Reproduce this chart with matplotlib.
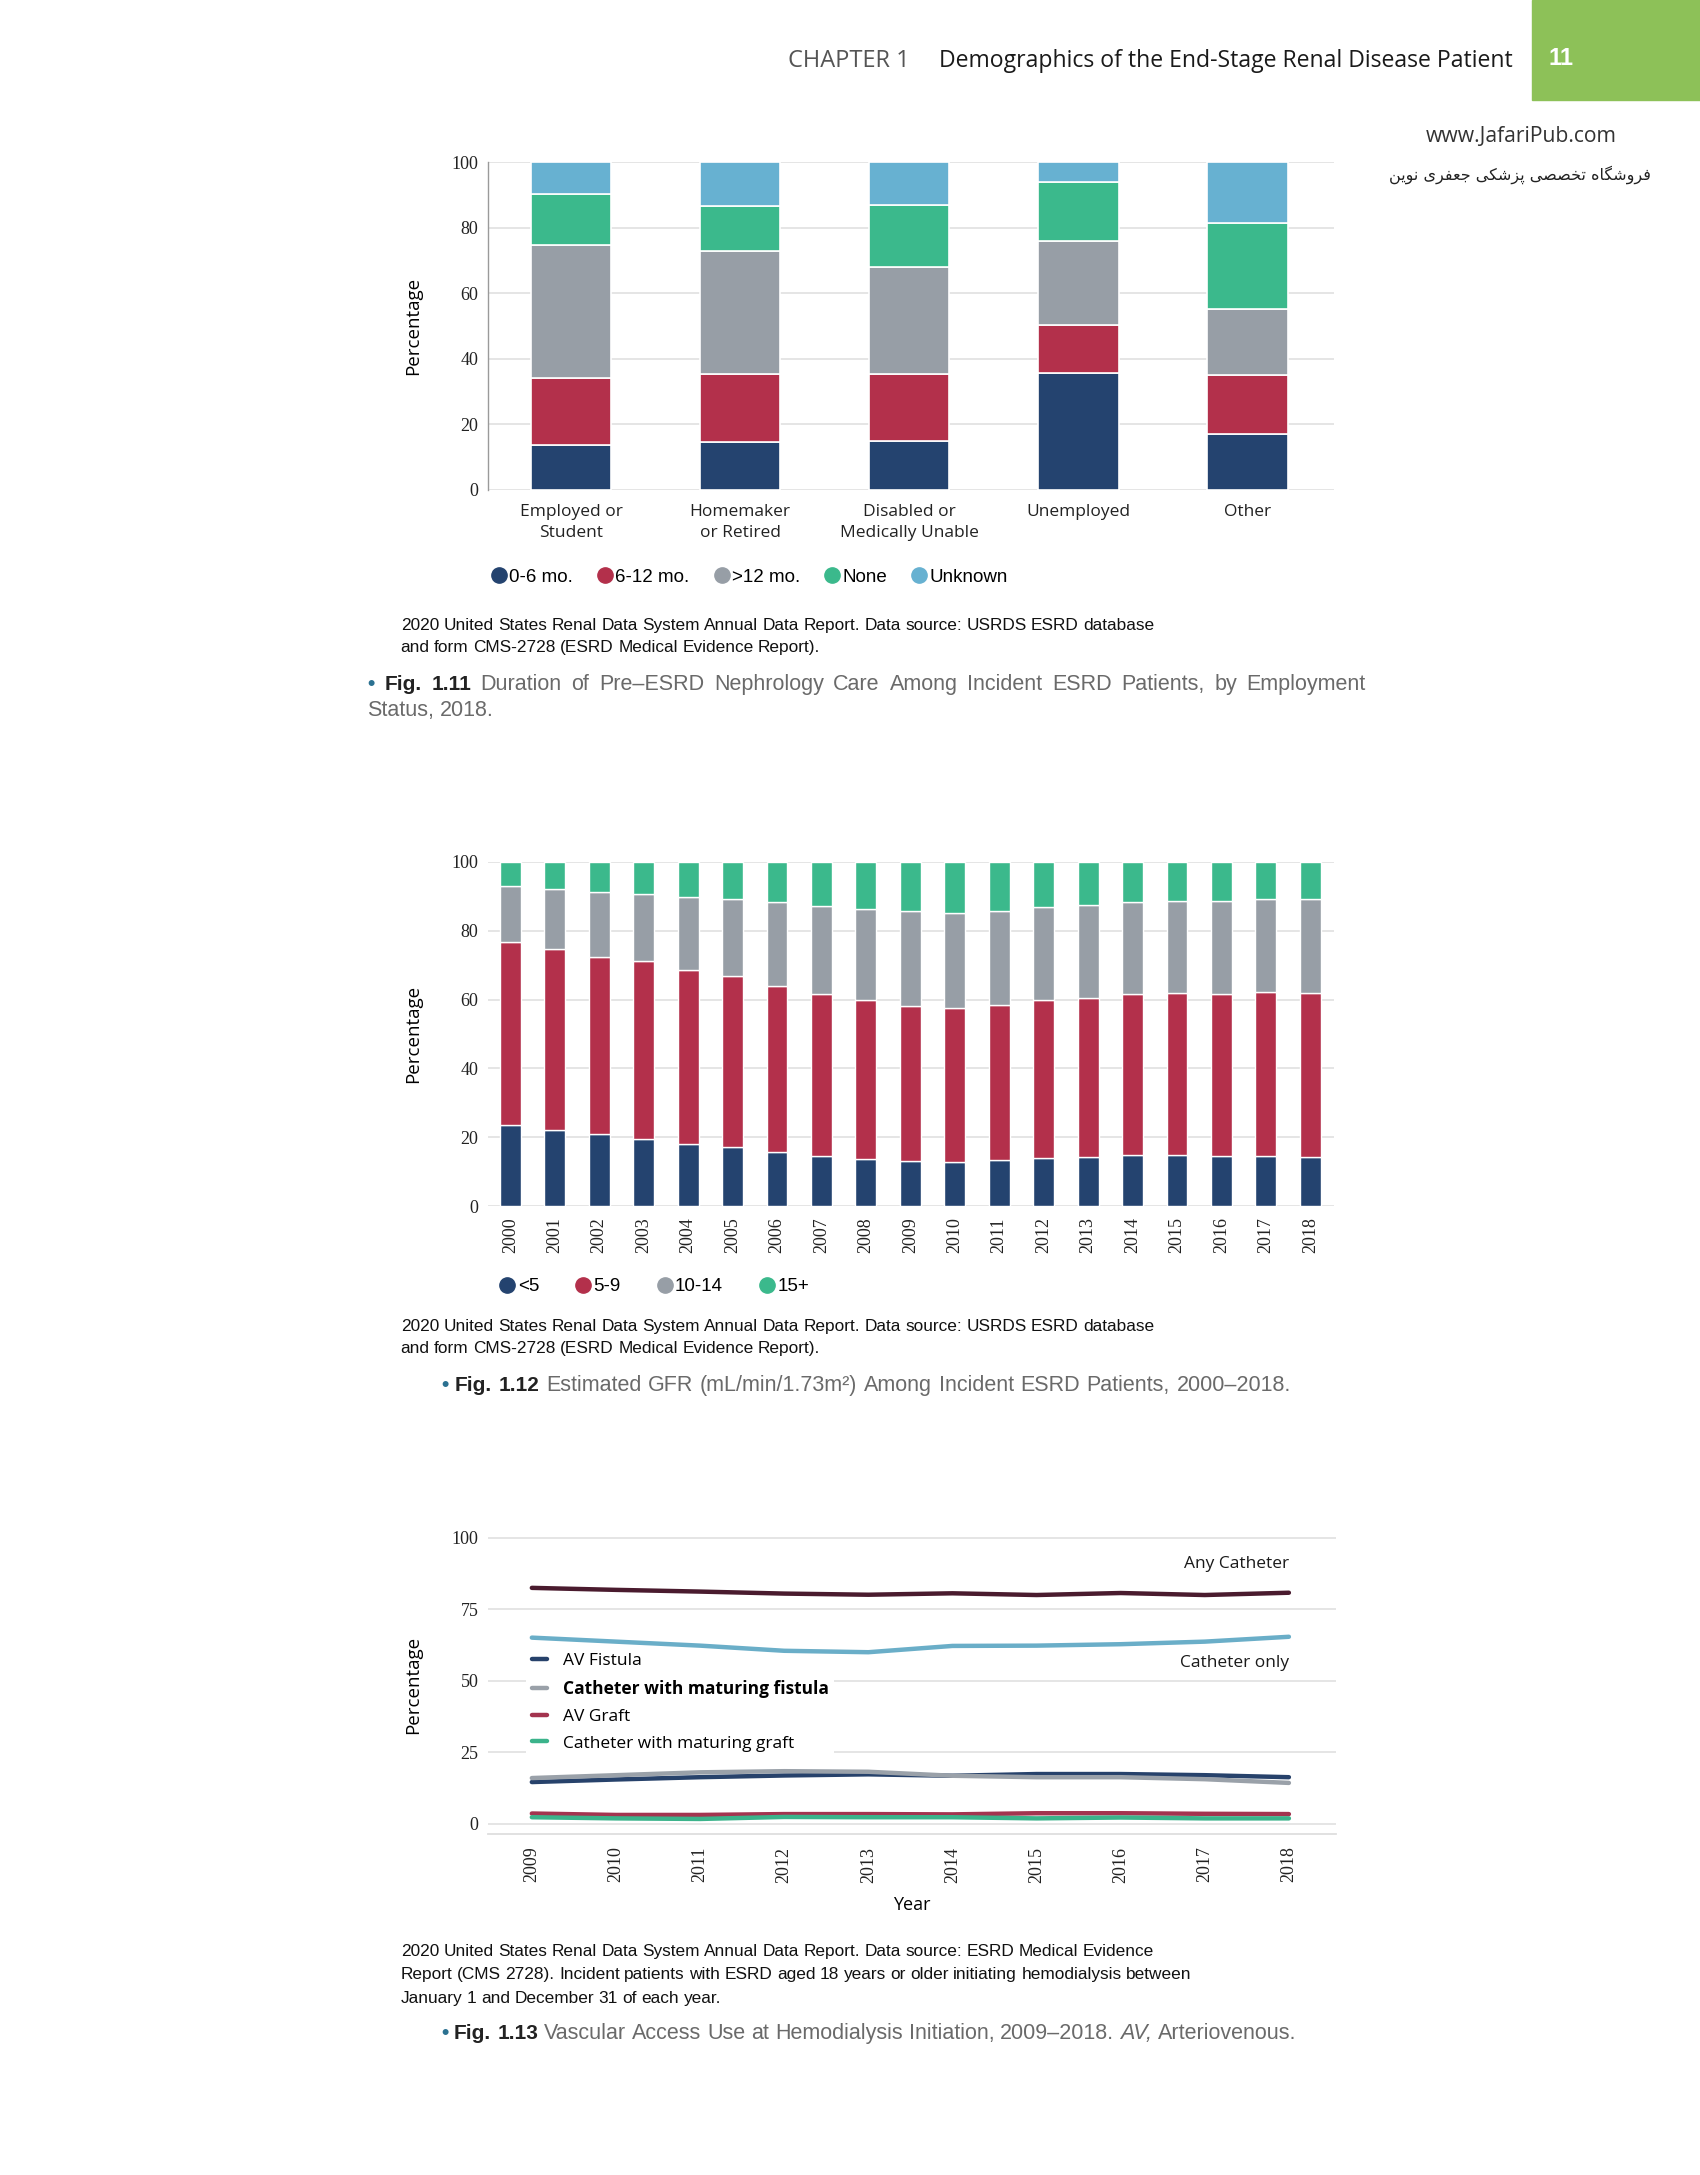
import matplotlib
matplotlib.use("Agg")
import matplotlib.pyplot as plt
from matplotlib.lines import Line2D
from matplotlib.patches import Rectangle

# ---------------- Fig 1.11 : pre-ESRD nephrology care by employment ----------------
employment = ["Employed or\nStudent", "Homemaker\nor Retired", "Disabled or\nMedically Unable",
              "Unemployed", "Other"]
care_0_6 = [13.7, 14.5, 14.8, 35.7, 17.2]
care_6_12 = [20.5, 20.9, 20.6, 14.6, 17.9]
care_over_12 = [40.7, 37.4, 32.6, 25.6, 20.1]
care_none = [15.3, 13.9, 19.1, 18.1, 26.2]
care_unknown = [9.8, 13.3, 12.9, 6.0, 18.6]
care_labels = ["0-6 mo.", "6-12 mo.", ">12 mo.", "None", "Unknown"]

# ---------------- Fig 1.12 : eGFR at initiation ----------------
gfr_years = ["2000", "2001", "2002", "2003", "2004", "2005", "2006", "2007", "2008", "2009",
             "2010", "2011", "2012", "2013", "2014", "2015", "2016", "2017", "2018"]
gfr_lt5 = [23.7, 22.0, 20.9, 19.6, 18.0, 17.1, 15.6, 14.5, 13.6, 13.0,
           12.8, 13.3, 13.9, 14.2, 14.8, 14.8, 14.5, 14.5, 14.2]
gfr_5_9 = [52.9, 52.6, 51.6, 51.6, 50.5, 49.7, 48.4, 47.1, 46.3, 45.1,
           44.7, 45.1, 46.0, 46.3, 46.8, 47.1, 47.1, 47.7, 47.7]
gfr_10_14 = [16.3, 17.4, 18.9, 19.6, 21.2, 22.3, 24.5, 25.5, 26.3, 27.6,
             27.8, 27.3, 26.9, 26.9, 26.7, 26.7, 27.2, 26.9, 27.2]
gfr_15_plus = [7.1, 8.0, 8.6, 9.2, 10.3, 10.9, 11.5, 12.9, 13.8, 14.3,
               14.7, 14.3, 13.2, 12.6, 11.7, 11.4, 11.2, 10.9, 10.9]
gfr_labels = ["<5", "5-9", "10-14", "15+"]

# ---------------- Fig 1.13 : vascular access ----------------
va_years = [2009, 2010, 2011, 2012, 2013, 2014, 2015, 2016, 2017, 2018]
any_catheter = [82.4, 81.7, 81.1, 80.4, 80.0, 80.5, 79.9, 80.6, 79.9, 80.7]
catheter_only = [65.0, 63.6, 62.2, 60.4, 59.9, 62.1, 62.2, 62.7, 63.6, 65.3]
av_fistula = [14.5, 15.4, 16.2, 16.8, 17.2, 16.7, 17.3, 17.3, 16.9, 16.2]
cath_mat_fistula = [15.9, 16.9, 17.9, 18.3, 18.1, 16.7, 16.2, 16.2, 15.5, 14.2]
av_graft = [3.5, 3.0, 3.0, 3.3, 3.3, 3.2, 3.6, 3.6, 3.4, 3.3]
cath_mat_graft = [2.2, 1.8, 1.6, 2.3, 2.2, 2.2, 1.8, 2.1, 1.8, 1.8]

NAVY, RED, GRAY, GREEN, BLUE = "#24436f", "#b3304b", "#979ea6", "#3bb98c", "#67b1d1"
GRID = "#dedede"
SERIF = ["Liberation Serif", "DejaVu Serif"]
SANS = ["Open Sans", "DejaVu Sans"]
ARIAL = ["Liberation Sans", "DejaVu Sans"]

fig = plt.figure(figsize=(17, 21.75), dpi=100)
W, H = 1226.0, 1567.0   # layout measured on a 1226-wide view of the page


def fx(x):
    return x / W


def fy(y):
    return 1 - y / H


def put_line(x, y, runs, width=None, size=14):
    # draws words one by one so mixed styles and justification are possible
    rend = fig.canvas.get_renderer()
    words = []
    for text, kw in runs:
        for w in text.split(" "):
            if w:
                words.append(fig.text(0, fy(y), w, va="baseline", **kw))
    widths = [t.get_window_extent(rend).width for t in words]
    if width is not None and len(words) > 1:
        gap = (width / W * 1700 - sum(widths)) / (len(words) - 1)
    else:
        gap = 0.26 * size * 100 / 72
    cur = x / W * 1700
    for t, w in zip(words, widths):
        t.set_x(cur / 1700)
        cur += w + gap


def style_axis(ax, left_spine=False):
    for s in ax.spines.values():
        s.set_visible(False)
    if left_spine:
        ax.spines["left"].set_visible(True)
        ax.spines["left"].set_color("#9a9a9a")
        ax.spines["left"].set_linewidth(1.0)
    ax.grid(axis="y", color=GRID, lw=1.1)
    ax.set_axisbelow(True)
    ax.tick_params(length=0, colors="#222222")
    for lab in ax.get_yticklabels():
        lab.set_fontfamily(SERIF)
        lab.set_fontsize(13)


# ---------------- header ----------------
fig.patches.append(Rectangle((fx(1105), fy(72)), 1 - fx(1105), fy(0) - fy(72),
                             transform=fig.transFigure, color="#8dc158", zorder=0))
fig.text(fx(1126), fy(42), "11", color="white", fontsize=17, fontweight="bold",
         family=ARIAL, ha="center", va="center")
fig.text(fx(568), fy(48), "CHAPTER 1", color="#555555", fontsize=17, family=SANS, va="baseline")
fig.text(fx(677), fy(48), "Demographics of the End-Stage Renal Disease Patient", color="#1a1a1a",
         fontsize=16.6, family=SANS, va="baseline")
fig.text(fx(1097), fy(98), "www.JafariPub.com", color="#333333", fontsize=15.2, family=SANS,
         ha="center", va="center")
# persian shop name, written with presentation forms (matplotlib has no arabic shaping)
fa_words = [[0xFED3, 0xFEAE, 0xFEED, 0xFEB7, 0xFB95, 0xFE8E, 0xFEE9],
            [0xFE97, 0xFEA8, 0xFEBC, 0xFEBC, 0xFEF0],
            [0xFB58, 0xFEB0, 0xFEB7, 0xFB91, 0xFEF0],
            [0xFE9F, 0xFECC, 0xFED4, 0xFEAE, 0xFEEF],
            [0xFEE7, 0xFEEE, 0xFEF3, 0xFEE6]]
fa_text = " ".join("".join(chr(c) for c in reversed(w)) for w in reversed(fa_words))
fig.text(fx(1096), fy(126), fa_text, color="#222222", fontsize=11.5, family=["DejaVu Sans"],
         ha="center", va="center")

# ---------------- Fig 1.11 ----------------
ax1 = fig.add_axes([fx(352), fy(353), fx(962) - fx(352), fy(117) - fy(353)])
x1 = list(range(len(employment)))
bottom = [0.0] * len(employment)
for vals, col, lab in zip([care_0_6, care_6_12, care_over_12, care_none, care_unknown],
                          [NAVY, RED, GRAY, GREEN, BLUE], care_labels):
    ax1.bar(x1, vals, 0.475, bottom=bottom, color=col, edgecolor="white", lw=1.2, label=lab)
    bottom = [b + v for b, v in zip(bottom, vals)]
ax1.set_xlim(-0.49, 4.51)
ax1.set_ylim(0, 100)
ax1.set_yticks([0, 20, 40, 60, 80, 100])
ax1.set_xticks(x1)
ax1.set_xticklabels(employment, family=SANS, fontsize=12.5, linespacing=1.4)
style_axis(ax1, left_spine=True)
ax1.tick_params(axis="x", pad=10)
ax1.tick_params(axis="y", pad=7)
ax1.set_ylabel("Percentage", family=SANS, fontsize=13.5)
ax1.yaxis.set_label_coords(-0.078, 0.5)

h1 = [Line2D([], [], ls="", marker="o", ms=11, color=c) for c in [NAVY, RED, GRAY, GREEN, BLUE]]
fig.legend(h1, care_labels, loc="center left", bbox_to_anchor=(fx(341), fy(416)), ncol=5,
           frameon=False, handletextpad=0.05, columnspacing=1.2, handlelength=1.0,
           prop={"family": ARIAL, "size": 13.5})

CAPN = {"family": ARIAL, "fontsize": 12.4, "color": "#111111"}
put_line(289, 454, [("2020 United States Renal Data System Annual Data Report. Data source: USRDS ESRD database", CAPN)],
         size=12.4)
put_line(289, 470, [("and form CMS-2728 (ESRD Medical Evidence Report).", CAPN)], size=12.4)

BUL = {"family": ARIAL, "fontsize": 15, "color": "#2b7191", "fontweight": "bold"}
FIGB = {"family": ARIAL, "fontsize": 15, "color": "#222222", "fontweight": "bold"}
CAP = {"family": ARIAL, "fontsize": 15.5, "color": "#6a6a6a"}
put_line(265, 497, [("\u2022", BUL), ("Fig. 1.11", FIGB),
                    ("Duration of Pre\u2013ESRD Nephrology Care Among Incident ESRD Patients, by Employment", CAP)],
         width=985 - 265, size=15)
put_line(265, 516, [("Status, 2018.", CAP)], size=15)

# ---------------- Fig 1.12 ----------------
ax2 = fig.add_axes([fx(352), fy(869), fx(962) - fx(352), fy(621) - fy(869)])
x2 = list(range(len(gfr_years)))
bottom = [0.0] * len(gfr_years)
for vals, col, lab in zip([gfr_lt5, gfr_5_9, gfr_10_14, gfr_15_plus], [NAVY, RED, GRAY, GREEN], gfr_labels):
    ax2.bar(x2, vals, 0.47, bottom=bottom, color=col, edgecolor="white", lw=1.0, label=lab)
    bottom = [b + v for b, v in zip(bottom, vals)]
ax2.set_xlim(-0.5, 18.53)
ax2.set_ylim(0, 100)
ax2.set_yticks([0, 20, 40, 60, 80, 100])
ax2.set_xticks(x2)
ax2.set_xticklabels(gfr_years, rotation=90, family=SERIF, fontsize=13)
style_axis(ax2)
ax2.tick_params(axis="x", pad=8)
ax2.tick_params(axis="y", pad=7)
ax2.set_ylabel("Percentage", family=SANS, fontsize=13.5)
ax2.yaxis.set_label_coords(-0.078, 0.5)

h2 = [Line2D([], [], ls="", marker="o", ms=11, color=c) for c in [NAVY, RED, GRAY, GREEN]]
fig.legend(h2, gfr_labels, loc="center left", bbox_to_anchor=(fx(347), fy(927)), ncol=4,
           frameon=False, handletextpad=0.05, columnspacing=1.85, handlelength=1.0,
           prop={"family": ARIAL, "size": 13.5})

put_line(289, 959, [("2020 United States Renal Data System Annual Data Report. Data source: USRDS ESRD database", CAPN)],
         size=12.4)
put_line(289, 975, [("and form CMS-2728 (ESRD Medical Evidence Report).", CAPN)], size=12.4)
put_line(318, 1002, [("\u2022", BUL), ("Fig. 1.12 ", FIGB),
                     ("Estimated GFR (mL/min/1.73m\u00b2) Among Incident ESRD Patients, 2000\u20132018.", CAP)],
         width=931 - 318, size=15)

# ---------------- Fig 1.13 ----------------
ax3 = fig.add_axes([fx(352), fy(1321.4), fx(963.5) - fx(352), fy(1106.7) - fy(1321.4)])
# the two catheter totals run above the legend box
ax3.plot(va_years, any_catheter, color="#4a1b2e", lw=3.2, solid_capstyle="round", zorder=6)
ax3.plot(va_years, catheter_only, color="#6aaec8", lw=3.2, solid_capstyle="round", zorder=6)
ax3.plot(va_years, av_fistula, color="#27426b", lw=3.2, label="AV Fistula", solid_capstyle="round")
ax3.plot(va_years, cath_mat_fistula, color="#9aa1a9", lw=3.2, label="Catheter with maturing fistula",
         solid_capstyle="round")
ax3.plot(va_years, av_graft, color="#a3344f", lw=3.2, label="AV Graft", solid_capstyle="round")
ax3.plot(va_years, cath_mat_graft, color="#3bb38b", lw=3.2, label="Catheter with maturing graft",
         solid_capstyle="round")
ax3.set_xlim(2008.48, 2018.56)
ax3.set_ylim(-3.7, 100.5)
ax3.set_yticks([0, 25, 50, 75, 100])
ax3.set_xticks(va_years)
ax3.set_xticklabels([str(y) for y in va_years], rotation=90, family=SERIF, fontsize=13)
style_axis(ax3)
ax3.spines["bottom"].set_visible(True)
ax3.spines["bottom"].set_color(GRID)
ax3.spines["bottom"].set_linewidth(1.3)
ax3.tick_params(axis="x", pad=9)
ax3.tick_params(axis="y", pad=7)
ax3.set_ylabel("Percentage", family=SANS, fontsize=13.5)
ax3.yaxis.set_label_coords(-0.078, 0.5)
ax3.set_xlabel("Year", family=SANS, fontsize=13, labelpad=10)
ax3.text(va_years[-1], 90.6, "Any Catheter", ha="right", va="center", family=SANS, fontsize=12.5,
         color="#1a1a1a")
ax3.text(va_years[-1], 56.1, "Catheter only", ha="right", va="center", family=SANS, fontsize=12.5,
         color="#1a1a1a")
leg3 = ax3.legend(loc="upper left", bbox_to_anchor=(0.035, 0.655), frameon=True, facecolor="white",
                  edgecolor="none", framealpha=1.0, handlelength=0.9, handletextpad=0.9,
                  labelspacing=0.62, borderpad=0.3, prop={"family": SANS, "size": 12.5})
leg3.get_texts()[1].set_fontweight("bold")

put_line(289, 1409, [("2020 United States Renal Data System Annual Data Report. Data source: ESRD Medical Evidence", CAPN)],
         size=12.4)
put_line(289, 1426, [("Report (CMS 2728). Incident patients with ESRD aged 18 years or older initiating hemodialysis between", CAPN)],
         size=12.4)
put_line(289, 1443, [("January 1 and December 31 of each year.", CAPN)], size=12.4)
put_line(318, 1469, [("\u2022", BUL), ("Fig. 1.13", FIGB),
                     ("Vascular Access Use at Hemodialysis Initiation, 2009\u20132018.", CAP),
                     ("AV,", dict(CAP, style="italic")), ("Arteriovenous.", CAP)],
         width=935 - 318, size=15)

fig.savefig("out.png", dpi=100)
